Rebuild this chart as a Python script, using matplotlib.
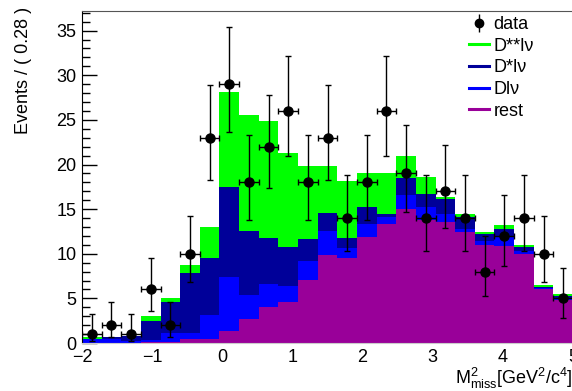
import numpy as np
import matplotlib
matplotlib.use('Agg')
import matplotlib.pyplot as plt
from matplotlib.lines import Line2D
from matplotlib.ticker import MultipleLocator

plt.rcParams['font.family'] = ['Liberation Sans', 'DejaVu Sans']
plt.rcParams['mathtext.fontset'] = 'custom'
plt.rcParams['mathtext.rm'] = 'Liberation Sans'
plt.rcParams['mathtext.it'] = 'Liberation Sans:italic'

# --- binning --- #
x_min, x_max = -2.0, 5.0
bin_w = 0.28
edges = x_min + bin_w * np.arange(26)
centres = edges[:-1] + bin_w / 2

# --- stacked components (events per bin) --- #
rest = [0.02, 0.03, 0.05, 0.12, 0.10, 0.40, 0.40, 1.33, 2.64, 3.99, 4.55, 7.06, 9.83,
        9.57, 11.90, 13.31, 15.00, 13.76, 13.57, 12.42, 10.96, 10.88, 10.02, 6.10, 4.78]
d_lnu = [0.40, 0.42, 0.20, 0.18, 1.00, 0.70, 2.70, 6.07, 2.76, 2.58, 1.88, 2.13, 2.67,
         1.08, 1.40, 0.76, 1.57, 1.50, 0.87, 0.37, 0.44, 1.01, 0.29, 0.06, 0.14]
dstar_lnu = [0.08, 0.25, 0.55, 2.15, 3.55, 6.70, 6.40, 10.10, 7.10, 5.23, 4.33, 2.50, 2.08,
             1.15, 1.96, 0.37, 1.88, 1.43, 1.72, 1.34, 0.76, 0.86, 0.45, 0.14, 0.38]
dstst_lnu = [0.15, 0.00, 0.02, 0.55, 0.35, 0.90, 3.50, 10.57, 13.10, 13.05, 10.54, 8.17, 5.20,
             6.30, 3.84, 4.56, 2.50, 1.87, 0.22, 0.31, 0.26, 0.49, 0.20, 0.15, 0.15]

# --- data with asymmetric poisson errors --- #
data = [1, 2, 1, 6, 2, 10, 23, 29, 18, 22, 26, 18, 23, 14, 18, 26, 19, 14, 17, 14, 8, 12, 14, 10, 5]
err_lo = [0.83, 1.29, 0.83, 2.38, 1.29, 3.11, 4.77, 5.37, 4.20, 4.66, 5.08, 4.20, 4.77, 3.70,
          4.20, 5.08, 4.32, 3.70, 4.08, 3.70, 2.77, 3.42, 3.70, 3.11, 2.16]
err_hi = [2.30, 2.64, 2.30, 3.58, 2.64, 4.27, 5.86, 6.44, 5.32, 5.76, 6.16, 5.32, 5.86, 4.83,
          5.32, 6.16, 5.43, 4.83, 5.20, 4.83, 3.95, 4.56, 4.83, 4.27, 3.38]

components = [
    (rest, '#990099', 'rest'),
    (d_lnu, '#0000ff', 'Dl\u03bd'),
    (dstar_lnu, '#000099', 'D*l\u03bd'),
    (dstst_lnu, '#00ff00', 'D**l\u03bd'),
]

# --- figure --- #
fig = plt.figure(figsize=(5.72, 3.91), dpi=100)
ax = fig.add_axes([82/572, 48/391, 491/572, 332/391])

bottom = np.zeros(len(centres))
for vals, col, lab in components:
    vals = np.array(vals)
    ax.bar(edges[:-1], vals, width=bin_w, bottom=bottom, align='edge',
           color=col, linewidth=0, zorder=1)
    bottom += vals

ax.errorbar(centres, data, yerr=[err_lo, err_hi], xerr=bin_w / 2, fmt='o', color='black',
            markersize=6.5, elinewidth=1, capsize=2, capthick=1, zorder=3)

ax.set_xlim(x_min, x_max)
ax.set_ylim(0, 37.2)
ax.set_axisbelow(True)

ax.yaxis.set_major_locator(MultipleLocator(5))
ax.yaxis.set_minor_locator(MultipleLocator(1))
ax.xaxis.set_major_locator(MultipleLocator(1))
ax.tick_params(axis='y', which='major', direction='in', length=11, width=1, labelsize=13, pad=4)
ax.tick_params(axis='y', which='minor', direction='in', length=5.5, width=1)
ax.tick_params(axis='x', which='both', length=0, labelsize=13, pad=4)
ax.tick_params(axis='y', right=False)

ax.spines['right'].set_visible(False)
ax.spines['top'].set_color('#555555')
ax.spines['bottom'].set_color('#cccccc')
ax.spines['left'].set_color('black')

fig.text(24/572, 1 - 7/391, 'Events / ( 0.28 )', rotation=90, ha='center', va='top', fontsize=13)
fig.text(455/572, 7/391, r'$\mathrm{M}^{2}_{\mathrm{miss}}$[GeV$^{2}$/c$^{4}$]',
         ha='left', va='baseline', fontsize=13)

# --- legend --- #
h_data = ax.errorbar([np.nan], [np.nan], yerr=[1], fmt='o', color='black',
                     markersize=6, elinewidth=1, capsize=0)
handles = [h_data] + [Line2D([], [], color=c, lw=2.2) for _, c, _ in components[::-1]]
labels = ['data'] + [lab for _, _, lab in components[::-1]]
fig.legend(handles, labels, loc='upper left', bbox_to_anchor=(469/572, 1 - 16/391),
           frameon=False, fontsize=13, handlelength=1.1, handletextpad=0.25,
           labelspacing=0.26, borderpad=0, borderaxespad=0)

fig.savefig('out.png', dpi=100)
